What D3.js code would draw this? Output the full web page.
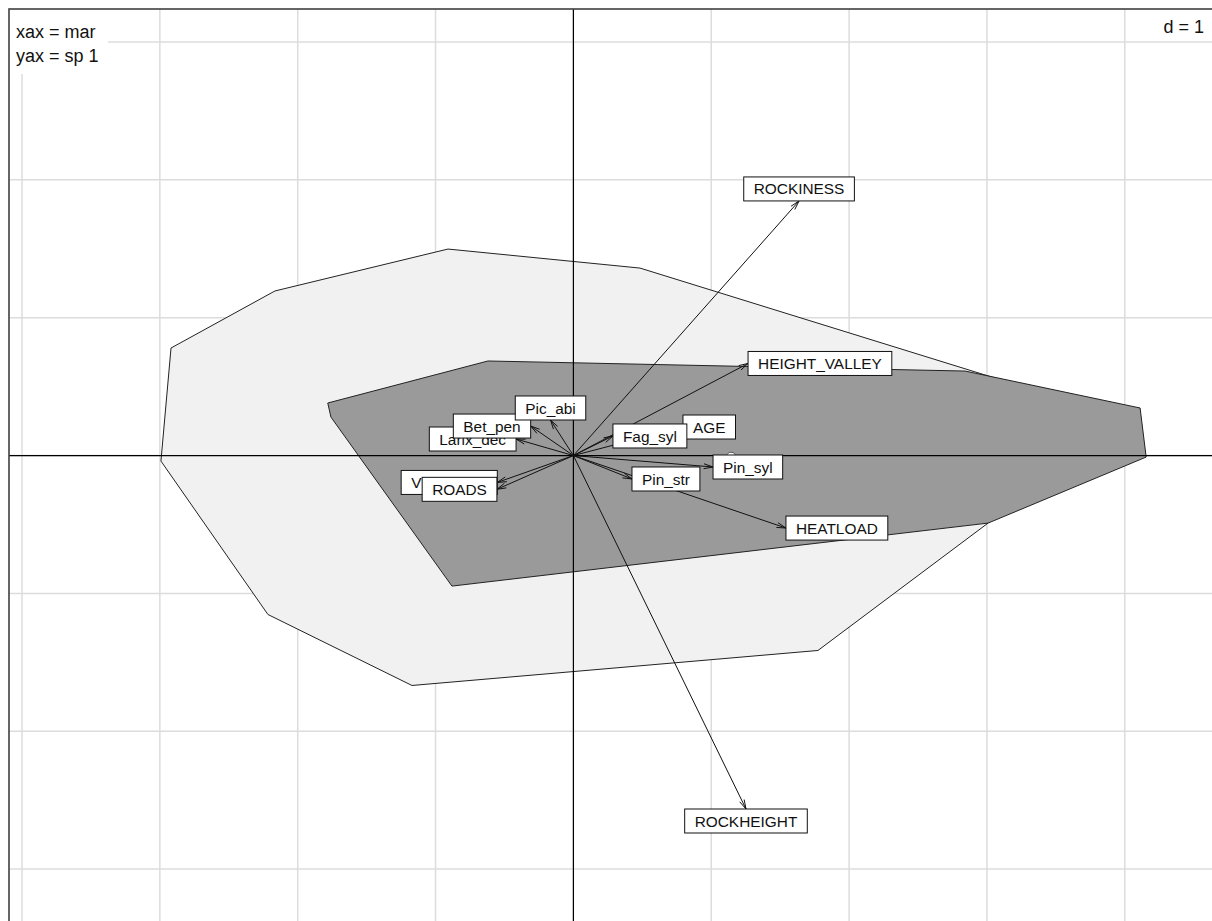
<!DOCTYPE html>
<html><head><meta charset="utf-8">
<script src="https://cdn.jsdelivr.net/npm/d3@7"></script>
<style>body{margin:0;background:#fff}svg{display:block}text{font-family:"Liberation Sans",Arial,sans-serif}</style>
</head><body><svg id="c" width="1212" height="921"></svg>
<script>
// ---- data (ordination units, d = 1) ----
const gridX = [-4, -3, -2, -1, 0, 1, 2, 3, 4];
const gridY = [-3, -2, -1, 0, 1, 2, 3];

const hullAllX = [-2.992, -2.919, -2.165, -0.910, 0.483, 3.385, 3.008, 1.774, -1.171, -2.216];
const hullAllY = [-0.040, 0.780, 1.194, 1.498, 1.360, 0.461, -0.490, -1.414, -1.668, -1.153];

const hullSubX = [-1.782, -0.620, 2.841, 4.111, 4.155, 3.008, -0.881, -1.759];
const hullSubY = [0.381, 0.686, 0.613, 0.345, -0.011, -0.490, -0.947, 0.279];

const arrowLabels = ["ROCKINESS", "HEIGHT_VALLEY", "AGE", "HEATLOAD", "ROCKHEIGHT", "VISIBILITY", "ROADS",
                     "Larix_dec", "Bet_pen", "Pic_abi", "Fag_syl", "Pin_syl", "Pin_str"];
const arrowX = [1.637, 1.267, 0.795, 1.542, 1.252, -0.552, -0.555, -0.416, -0.310, -0.166, 0.287, 1.013, 0.425];
const arrowY = [1.847, 0.668, 0.207, -0.526, -2.564, -0.195, -0.245, 0.120, 0.214, 0.258, 0.142, -0.083, -0.170];

const pointX = [1.144];
const pointY = [-0.012];

const xaxText = "xax = mar";
const yaxText = "yax = sp 1";
const dText = "d = 1";

// ---- drawing ----
const svg = d3.select("#c");
const W = 1212, H = 921;
const x = d3.scaleLinear().domain([-4, 4]).range([22, 1124.8]);
const y = d3.scaleLinear().domain([-3, 3]).range([869.1, 42]);
const frameL = 9, frameT = 9, frameR = 1300, frameB = 1000;

svg.append("rect").attr("width", W).attr("height", H).attr("fill", "#fff");

// grid
const g = svg.append("g");
g.selectAll("line.gx").data(gridX).join("line")
  .attr("x1", d => x(d)).attr("x2", d => x(d)).attr("y1", frameT).attr("y2", frameB)
  .attr("stroke", "#dcdcdc").attr("stroke-width", 1.5);
g.selectAll("line.gy").data(gridY).join("line").attr("class", "gy")
  .attr("y1", d => y(d)).attr("y2", d => y(d)).attr("x1", frameL).attr("x2", frameR)
  .attr("stroke", "#dcdcdc").attr("stroke-width", 1.5);

// hulls
const line = d3.line().x(d => x(d[0])).y(d => y(d[1]));
const allPts = hullAllX.map((v, i) => [v, hullAllY[i]]);
const subPts = hullSubX.map((v, i) => [v, hullSubY[i]]);
svg.append("path").attr("d", line(allPts) + "Z").attr("fill", "#f1f1f1").attr("stroke", "#222").attr("stroke-width", 1);
svg.append("path").attr("d", line(subPts) + "Z").attr("fill", "#9a9a9a").attr("stroke", "#222").attr("stroke-width", 1);

// axes through origin
svg.append("line").attr("x1", frameL).attr("x2", frameR).attr("y1", y(0)).attr("y2", y(0)).attr("stroke", "#000").attr("stroke-width", 1.2);
svg.append("line").attr("y1", frameT).attr("y2", frameB).attr("x1", x(0)).attr("x2", x(0)).attr("stroke", "#000").attr("stroke-width", 1.2);

// arrows
const ag = svg.append("g").attr("stroke", "#111").attr("stroke-width", 1).attr("fill", "none");
const headLen = 9.6, headAng = 15 * Math.PI / 180;
arrowX.forEach((vx, i) => {
  const x0 = x(0), y0 = y(0), x1 = x(vx), y1 = y(arrowY[i]);
  ag.append("line").attr("x1", x0).attr("y1", y0).attr("x2", x1).attr("y2", y1);
  const a = Math.atan2(y1 - y0, x1 - x0);
  const p1 = [x1 - headLen * Math.cos(a - headAng), y1 - headLen * Math.sin(a - headAng)];
  const p2 = [x1 - headLen * Math.cos(a + headAng), y1 - headLen * Math.sin(a + headAng)];
  ag.append("path").attr("d", `M${p1[0]},${p1[1]}L${x1},${y1}L${p2[0]},${p2[1]}`);
});

// small point
svg.selectAll("circle.pt").data(pointX).join("circle")
  .attr("cx", d => x(d)).attr("cy", (d, i) => y(pointY[i])).attr("r", 5)
  .attr("fill", "#fff").attr("stroke", "#555").attr("stroke-width", 1);

// labels (ade4 circular placement rule)
const fs = 15.4, pad = 10, boxH = 24;
arrowLabels.forEach((lab, i) => {
  const xr = arrowX[i], yr = arrowY[i];
  const px = x(xr), py = y(yr);
  const lg = svg.append("g");
  const rect = lg.append("rect").attr("fill", "#fff").attr("stroke", "#111").attr("stroke-width", 1);
  const t = lg.append("text").text(lab).attr("font-size", fs).attr("fill", "#111").attr("text-anchor", "middle");
  const tw = t.node().getComputedTextLength();
  const bw = tw + 2 * pad;
  let cx, cy;
  if (xr > yr && xr > -yr) { cx = px + bw / 2; cy = py; }
  else if (xr > yr && xr <= -yr) { cx = px; cy = py + boxH / 2; }
  else if (xr <= yr && xr <= -yr) { cx = px - bw / 2; cy = py; }
  else { cx = px; cy = py - boxH / 2; }
  rect.attr("x", cx - bw / 2).attr("y", cy - boxH / 2).attr("width", bw).attr("height", boxH);
  t.attr("x", cx).attr("y", cy + fs * 0.36);
});

// frame
svg.append("rect").attr("x", frameL).attr("y", frameT).attr("width", frameR - frameL).attr("height", frameB - frameT)
  .attr("fill", "none").attr("stroke", "#404040").attr("stroke-width", 1.6);

// corner texts
svg.append("rect").attr("x", frameL + 1).attr("y", frameT + 1).attr("width", 98).attr("height", 64).attr("fill", "#fff");
svg.append("text").attr("x", 16).attr("y", 38).attr("font-size", 18).attr("fill", "#111").text(xaxText);
svg.append("text").attr("x", 16).attr("y", 62).attr("font-size", 18).attr("fill", "#111").text(yaxText);
svg.append("rect").attr("x", 1152).attr("y", frameT + 1).attr("width", 60).attr("height", 30).attr("fill", "#fff");
svg.append("text").attr("x", 1204).attr("y", 33).attr("font-size", 18).attr("fill", "#111").attr("text-anchor", "end").text(dText);
</script></body></html>
